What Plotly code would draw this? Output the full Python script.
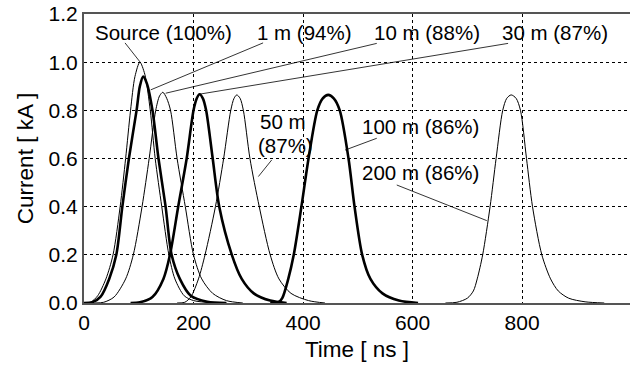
import plotly.graph_objects as go

# ---- data (time in ns, current in kA) ----
src_t = [0, 12, 25, 40, 53, 66, 76, 85, 93, 102, 111, 121, 130, 142, 155, 166, 183, 200, 230, 260]
src_v = [0, 0.003, 0.03, 0.1, 0.2, 0.4, 0.6, 0.8, 0.94, 1.0, 0.95, 0.8, 0.6, 0.4, 0.2, 0.1, 0.03, 0.01, 0.002, 0]

m1_t = [0, 15, 30, 46, 59, 70, 82, 96, 102, 108, 115, 125, 136, 149, 160, 175, 195, 225, 260]
m1_v = [0, 0.003, 0.025, 0.1, 0.2, 0.4, 0.6, 0.8, 0.9, 0.94, 0.91, 0.8, 0.6, 0.4, 0.2, 0.1, 0.03, 0.005, 0]

m10_t = [20, 36, 55, 76, 90, 106, 119, 131, 138, 144, 151, 158, 170, 185, 200, 215, 235, 260, 290]
m10_v = [0, 0.003, 0.025, 0.1, 0.2, 0.4, 0.6, 0.8, 0.86, 0.875, 0.85, 0.8, 0.6, 0.4, 0.2, 0.1, 0.04, 0.01, 0]

m30_t = [85, 102, 125, 145, 157, 172, 187.5, 200, 206, 211, 217, 223, 235, 247, 270, 288, 310, 340, 370]
m30_v = [0, 0.003, 0.025, 0.1, 0.2, 0.4, 0.6, 0.8, 0.85, 0.867, 0.85, 0.8, 0.6, 0.4, 0.2, 0.1, 0.04, 0.01, 0]

m50_t = [170, 184, 195, 209, 221, 240, 255, 268, 274, 279, 285, 291, 303, 320, 340, 356, 378, 410, 440]
m50_v = [0, 0.003, 0.025, 0.1, 0.2, 0.4, 0.6, 0.8, 0.85, 0.864, 0.85, 0.8, 0.6, 0.4, 0.2, 0.1, 0.04, 0.01, 0]

m100_t = [340, 355, 362, 373, 383, 397, 410, 426, 436, 446, 456, 467, 483, 494, 508, 523, 545, 575, 610]
m100_v = [0, 0.003, 0.02, 0.1, 0.2, 0.4, 0.6, 0.8, 0.85, 0.864, 0.85, 0.8, 0.6, 0.4, 0.2, 0.1, 0.04, 0.01, 0]

m200_t = [660, 681, 700, 711, 718, 728, 741.5, 752.5, 764.6, 772, 780, 789, 797, 808, 819, 836, 852, 866, 885, 915, 950]
m200_v = [0, 0.003, 0.02, 0.05, 0.1, 0.2, 0.4, 0.6, 0.8, 0.85, 0.864, 0.85, 0.8, 0.6, 0.4, 0.2, 0.1, 0.05, 0.02, 0.005, 0]

labels = ["Source (100%)", "1 m (94%)", "10 m (88%)", "30 m (87%)",
          "50 m", "(87%)", "100 m (86%)", "200 m (86%)"]

x_ticks = [0, 200, 400, 600, 800]
y_ticks = [0.0, 0.2, 0.4, 0.6, 0.8, 1.0, 1.2]

# ---- styling / layout ----
FONT = "Liberation Sans, Arial, Helvetica, sans-serif"
series = [
    (src_t, src_v, 1.0),
    (m1_t, m1_v, 2.6),
    (m10_t, m10_v, 1.0),
    (m30_t, m30_v, 2.6),
    (m50_t, m50_v, 1.0),
    (m100_t, m100_v, 2.6),
    (m200_t, m200_v, 1.0),
]

fig = go.Figure()
for t, v, w in series:
    fig.add_trace(go.Scatter(x=t, y=v, mode="lines",
                             line=dict(color="black", width=w, shape="spline", smoothing=0.8),
                             showlegend=False, hoverinfo="skip"))

# label placement: text x (left edge), text y
label_xy = [(16, 1.125), (312, 1.125), (526, 1.125), (760, 1.125),
            (317.7, 0.752), (314, 0.652), (504, 0.731), (504, 0.540)]
# leader lines: start, end
leaders = [
    ((74.9, 1.080), (102.3, 1.001)),
    ((327, 1.080), (121.8, 0.885)),
    ((534.6, 1.078), (149.2, 0.871)),
    ((774.4, 1.078), (210.6, 0.867)),
    ((342.8, 0.594), (318.4, 0.525)),
    ((534.6, 0.684), (476.7, 0.635)),
    ((571.1, 0.490), (735.5, 0.342)),
]
for p0, p1 in leaders:
    fig.add_trace(go.Scatter(x=[p0[0], p1[0]], y=[p0[1], p1[1]], mode="lines",
                             line=dict(color="black", width=0.8),
                             showlegend=False, hoverinfo="skip"))
for txt, (tx, ty) in zip(labels, label_xy):
    fig.add_annotation(x=tx, y=ty, text=txt, showarrow=False, xanchor="left",
                       yanchor="middle", align="left",
                       font=dict(family=FONT, size=20.5, color="black"))

fig.update_layout(
    width=630, height=371,
    margin=dict(l=84, r=0, t=14, b=68),
    paper_bgcolor="white", plot_bgcolor="white",
    font=dict(family=FONT, size=21, color="black"),
    xaxis=dict(range=[0, 997], tickvals=x_ticks, ticktext=[str(v) for v in x_ticks],
               showgrid=True, gridcolor="black", griddash="dot", gridwidth=1.3,
               zeroline=False, showline=True, linecolor="#555", linewidth=2, mirror=True,
               ticks="", tickfont=dict(size=21),
               title=dict(text="Time [ ns ]", standoff=8, font=dict(size=22.5))),
    yaxis=dict(range=[0, 1.2], tickvals=y_ticks, ticktext=[f"{v:.1f}" for v in y_ticks],
               showgrid=True, gridcolor="black", griddash="dot", gridwidth=1.3,
               zeroline=False, showline=True, linecolor="#555", linewidth=2,
               ticks="", tickfont=dict(size=21),
               title=dict(text="Current [ kA ]", standoff=9, font=dict(size=22.5))),
)

fig.write_html("out.html")
